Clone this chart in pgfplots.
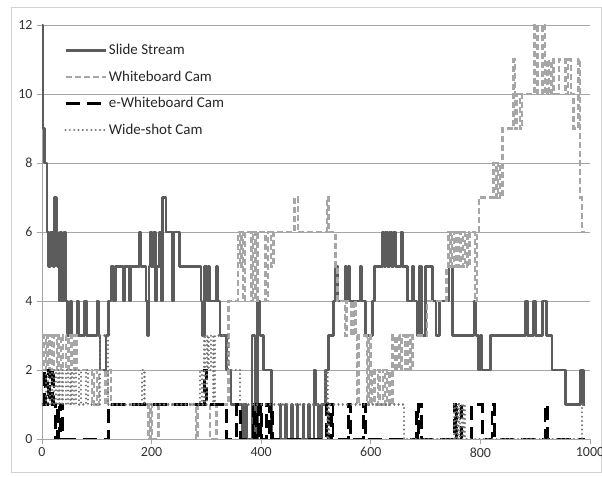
\documentclass[border=0pt]{standalone}
\usepackage{pgfplots}
\pgfplotsset{compat=1.18}
\usepackage{fontspec}
\setmainfont{Carlito}
\definecolor{slidec}{RGB}{92,92,92}
\definecolor{wbc}{RGB}{166,166,166}
\definecolor{widec}{RGB}{115,115,115}
\definecolor{gridc}{RGB}{165,165,165}
\definecolor{framec}{RGB}{210,210,210}
\begin{document}
\begin{tikzpicture}
\useasboundingbox (0bp,0bp) rectangle (602bp,477bp);
\draw[framec, line width=1bp] (11bp,4bp) rectangle (601.5bp,469bp);
\begin{axis}[
  at={(42bp,38bp)}, anchor=south west,
  scale only axis, width=548bp, height=414bp,
  xmin=0, xmax=1000, ymin=0, ymax=12,
  xtick={0,200,...,1000}, ytick={0,2,...,12},
  axis lines=left,
  axis line style={-, draw=gridc, line width=0.9bp},
  tick style={draw=gridc, line width=0.9bp},
  tick align=outside, major tick length=5bp,
  ymajorgrids, major grid style={draw=gridc, line width=0.9bp},
  /pgf/number format/assume math mode=true,
  /pgf/number format/1000 sep={},
  tick label style={font=\fontsize{14}{16}\selectfont, text=black!80},
  yticklabel style={xshift=-1bp},
  legend style={at={(0.04,0.958)}, anchor=north west, draw=none, fill=none,
    font=\fontsize{15}{17}\selectfont, row sep=10.5bp, inner sep=0bp,
    nodes={inner sep=2bp, text=black!85}},
  legend cell align=left,
  legend image code/.code={\draw[#1] (0bp,0bp) -- (40bp,0bp);},
  clip=true,
]
% Slide Stream
\addplot[const plot, slidec, line width=2.6bp, line join=round] table {
0 12
2 9
5 8
9 6
12 5
16 6
20 5
23 7
26 6
28 5
31 4
33 6
36 4
40 6
43 4
47 3
52 4
55 3
64 4
67 3
78 4
81 3
100 4
103 3
106 2
117 3
121 4
126 5
131 4
134 5
148 4
150 5
160 4
162 5
178 6
181 5
190 4
192 3
195 5
197 6
200 5
204 6
207 4
210 5
214 6
217 4
220 7
226 6
238 4
241 6
251 5
290 4
292 3
297 5
301 4
304 5
306 4
318 5
320 4
325 3
337 2
345 1
365 0
368 1
373 0
383 3
389 0
393 4
398 3
404 2
419 0
434 1
436 0
444 1
446 0
455 1
457 0
465 1
467 0
476 1
478 0
486 1
488 0
496 2
499 1
505 0
510 1
517 2
523 3
532 4
536 5
540 4
553 5
556 4
559 5
562 4
580 5
583 4
590 3
603 4
607 5
621 6
624 5
627 6
631 5
634 6
638 5
641 6
645 5
655 6
658 5
667 4
676 5
679 4
684 3
688 5
692 3
700 5
713 4
719 3
725 4
743 5
749 3
788 4
792 3
797 2
800 3
803 2
818 3
882 4
886 3
897 4
901 3
913 4
921 3
931 2
955 1
983 2
988 1
991 1
};
\addlegendentry{Slide Stream}
% Whiteboard Cam
\addplot[const plot, wbc, line width=2.5bp, dash pattern=on 6bp off 3bp] table {
0 3
4 2
7 3
10 2
14 3
18 2
22 3
27 2
30 3
35 2
38 3
44 2
48 3
54 2
58 3
63 2
91 1
95 2
100 1
104 2
116 1
120 2
126 1
194 0
198 1
201 0
213 1
281 0
284 1
307 0
318 1
340 4
358 6
361 5
364 6
367 4
370 6
382 4
385 6
390 4
393 6
408 4
412 6
418 5
422 6
461 7
467 6
520 7
523 6
536 5
539 4
553 3
556 4
565 3
569 4
572 3
575 1
578 3
593 1
596 3
599 1
602 2
607 1
613 2
616 1
622 2
626 1
630 2
634 1
640 3
644 2
648 3
652 2
656 3
663 2
667 3
672 2
676 3
703 4
738 5
742 6
745 5
748 6
752 5
756 6
760 5
764 6
768 5
772 6
776 5
780 6
790 4
794 6
797 7
824 8
829 7
832 8
836 7
840 9
860 11
863 9
867 10
872 9
876 10
899 12
904 10
913 12
918 10
922 11
925 10
930 11
933 10
943 11
955 10
960 11
965 10
970 9
979 11
982 7
985 6
990 6
};
\addlegendentry{Whiteboard Cam}
% e-Whiteboard Cam
\addplot[const plot, black, line width=2.8bp, dash pattern=on 14bp off 7bp] table {
0 1
4 2
7 1
11 2
14 1
19 2
22 1
25 0
28 1
31 0
34 1
37 0
121 1
296 2
300 1
337 0
355 1
362 0
385 1
388 0
391 1
394 0
398 1
400 0
410 1
415 0
418 1
420 0
519 1
523 0
529 1
531 0
559 1
563 0
587 1
591 0
684 1
686 0
688 1
693 0
752 1
754 0
757 1
766 0
784 1
804 0
821 1
825 0
918 1
922 0
991 0
};
\addlegendentry{e-Whiteboard Cam}
% Wide-shot Cam
\addplot[const plot, widec, line width=2.2bp, line cap=round, dash pattern=on 0.1bp off 4.2bp] table {
0 1
8 2
11 1
15 2
18 1
22 2
25 1
29 2
32 1
36 2
39 1
44 2
47 1
52 2
55 1
59 2
62 1
68 2
71 1
80 2
84 1
106 3
120 1
183 2
187 1
289 2
292 1
295 3
298 1
301 3
304 2
308 3
313 1
316 3
340 2
362 1
516 2
521 0
524 1
660 0
752 1
754 0
757 1
760 0
763 1
766 0
769 1
772 0
985 1
991 1
};
\addlegendentry{Wide-shot Cam}
\end{axis}
\end{tikzpicture}
\end{document}
